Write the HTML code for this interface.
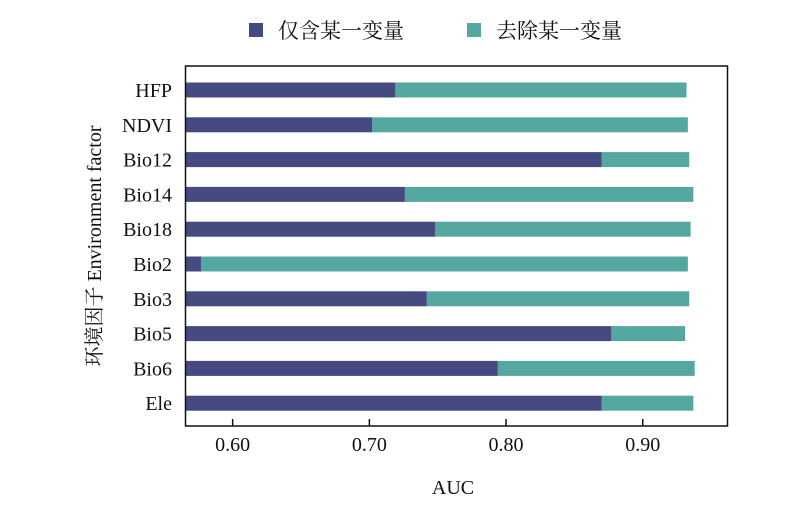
<!DOCTYPE html>
<html><head><meta charset="utf-8"><style>
body{margin:0;background:#fff}
svg text{font-family:"Liberation Serif","Noto Serif CJK SC",serif;fill:#111}
</style></head><body>
<svg id="chart" width="800" height="517">
<g>
<rect x="249" y="23" width="14" height="14" fill="#454b80"/>
<text x="278" y="38" font-size="21">仅含某一变量</text>
<rect x="467" y="23" width="14" height="14" fill="#55a89f"/>
<text x="496" y="38" font-size="21">去除某一变量</text>
</g>
<g id="bars"></g>
<rect x="185.5" y="66" width="542" height="360" fill="none" stroke="#111" stroke-width="1.5"/>
<g id="axes"></g>
<text x="453" y="494" font-size="20" text-anchor="middle">AUC</text>
<text transform="translate(101,246) rotate(-90)" font-size="20" text-anchor="middle">环境因子 Environment factor</text>
</svg>
<script>
const categories=["HFP","NDVI","Bio12","Bio14","Bio18","Bio2","Bio3","Bio5","Bio6","Ele"];
const onlyVar=[0.719,0.702,0.870,0.726,0.748,0.577,0.742,0.877,0.794,0.870];
const removedVar=[0.932,0.933,0.934,0.937,0.935,0.933,0.934,0.931,0.938,0.937];
const ticks=[0.6,0.7,0.8,0.9];
const tickLabels=["0.60","0.70","0.80","0.90"];
const X0=185.5,xMin=0.5655;
const xs=v=>X0+(v-xMin)*1367;
const yc=i=>90+i*34.8;
const NS="http://www.w3.org/2000/svg";
const bars=document.getElementById('bars'),axes=document.getElementById('axes');
function mk(tag,attrs,parent){const e=document.createElementNS(NS,tag);for(const k in attrs)e.setAttribute(k,attrs[k]);parent.appendChild(e);return e;}
categories.forEach((c,i)=>{
  const y=yc(i)-7.5;
  const t=mk('rect',{x:xs(onlyVar[i]),y:y,width:xs(removedVar[i])-xs(onlyVar[i]),height:15,fill:'#55a89f'},bars);
  
  
  const p=mk('rect',{x:X0,y:y,width:xs(onlyVar[i])-X0,height:15,fill:'#454b80'},bars);
  
  
  const l=mk('text',{x:172,y:yc(i)+7,'font-size':20,'text-anchor':'end'},axes);
  l.textContent=c;
  
  
});
ticks.forEach((v,i)=>{
  const tk=mk('line',{x1:xs(v),x2:xs(v),y1:426,y2:419,stroke:'#111','stroke-width':1.5},axes);
  
  
  const tl=mk('text',{x:xs(v),y:451,'font-size':20,'text-anchor':'middle'},axes);
  tl.textContent=tickLabels[i];
  
  
});
</script>
</body></html>
